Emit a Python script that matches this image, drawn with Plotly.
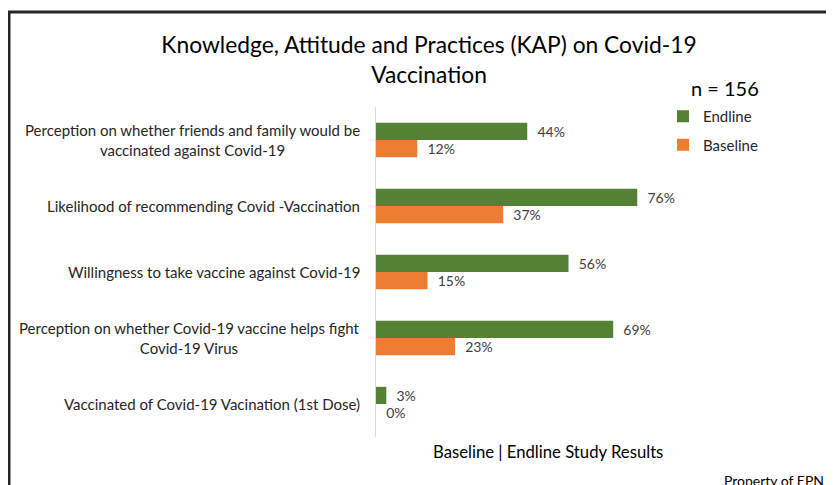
import plotly.graph_objects as go

categories = [
    "Perception on whether friends and family would be<br>vaccinated against Covid-19",
    "Likelihood of recommending Covid -Vaccination",
    "Willingness to take vaccine against Covid-19",
    "Perception on whether Covid-19 vaccine helps fight<br>Covid-19 Virus",
    "Vaccinated of Covid-19 Vacination (1st Dose)",
]
endline = [44, 76, 56, 69, 3]
baseline = [12, 37, 15, 23, 0]

FONT = "Lato"
TXT = "#404040"
GREEN = "#548235"
ORANGE = "#ED7D31"

fig = go.Figure()
fig.add_trace(go.Bar(
    y=categories, x=endline, name="Endline", orientation="h",
    marker=dict(color=GREEN, line=dict(width=0)),
    text=endline, texttemplate="\u00a0\u00a0%{x}%", textposition="outside",
    textfont=dict(family=FONT, size=14, color=TXT), cliponaxis=False,
    legendgroup="e",
))
fig.add_trace(go.Bar(
    y=categories, x=baseline, name="Baseline", orientation="h",
    marker=dict(color=ORANGE, line=dict(width=0)),
    text=baseline, texttemplate="\u00a0\u00a0%{x}%", textposition="outside",
    textfont=dict(family=FONT, size=14, color=TXT), cliponaxis=False,
    legendgroup="b",
))

# category labels as centered multi-line annotations right-aligned to the axis
for c in categories:
    fig.add_annotation(x=0, xref="paper", y=c, yref="y", text=c, showarrow=False,
                       xanchor="right", xshift=-14, align="center",
                       font=dict(family=FONT, size=15, color="#262626"))

# page body has an 8px margin: figure pixel = screen pixel - 8
OFF = 8
L, R, T, B = 368, 191, 99, 56
W, H = 834, 485
pw, ph = W - L - R, H - T - B

def px(xs):
    return (xs - OFF - L) / pw

def py(ys):
    return (H - B - (ys - OFF)) / ph

fig.add_annotation(x=px(725), xref="paper", y=py(88), yref="paper", text="n = 156",
                   showarrow=False, xanchor="center", yanchor="middle",
                   font=dict(family=FONT, size=20, color="#000000"))
fig.add_annotation(x=px(548), xref="paper", y=py(452), yref="paper",
                   text="Baseline | Endline Study Results", showarrow=False,
                   xanchor="center", yanchor="middle",
                   font=dict(family=FONT, size=16.7, color="#000000"))
fig.add_annotation(x=px(826), xref="paper", y=py(480), yref="paper",
                   text="Property of EPN", showarrow=False,
                   xanchor="right", yanchor="middle",
                   font=dict(family=FONT, size=14, color="#000000"))

# frame
fig.add_shape(type="line", xref="paper", yref="paper", x0=px(9), x1=px(9), y0=py(11), y1=py(500),
              line=dict(color="#262626", width=3))
fig.add_shape(type="line", xref="paper", yref="paper", x0=px(8), x1=px(850), y0=py(12), y1=py(12),
              line=dict(color="#262626", width=3))

fig.update_layout(
    width=W, height=H,
    margin=dict(l=L, r=R, t=T, b=B, autoexpand=False),
    paper_bgcolor="white", plot_bgcolor="white",
    barmode="group", bargap=0.48, bargroupgap=0,
    title=dict(text="Knowledge, Attitude and Practices (KAP) on Covid-19<br>Vaccination",
               x=421 / W, xanchor="center", y=1 - 45 / H, yanchor="top",
               font=dict(family=FONT, size=22.8, color="#000000")),
    xaxis=dict(range=[0, 80], showgrid=False, zeroline=False, showticklabels=False,
               ticks="", showline=False, fixedrange=True),
    yaxis=dict(autorange="reversed", showgrid=False, showticklabels=False, ticks="",
               showline=True, linecolor="#D9D9D9", linewidth=1, zeroline=False),
    legend=dict(x=px(663), y=py(100), xanchor="left", yanchor="top",
                font=dict(family=FONT, size=15, color="#262626"),
                tracegroupgap=6, bgcolor="rgba(0,0,0,0)", itemwidth=30),
    showlegend=True,
    font=dict(family=FONT),
)

fig.write_html("out.html")
